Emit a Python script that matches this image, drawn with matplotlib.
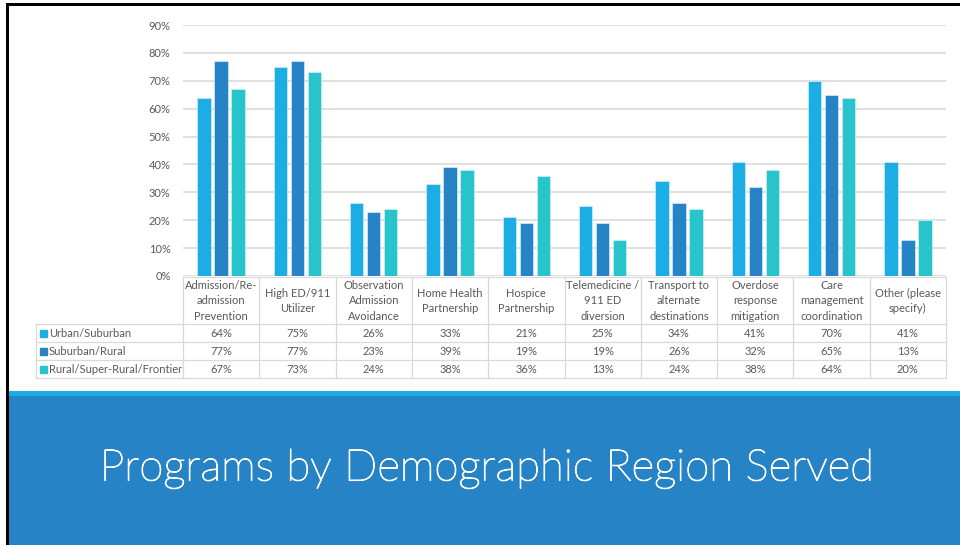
import matplotlib
matplotlib.use("Agg")
import matplotlib.pyplot as plt
from matplotlib.patches import Rectangle
import matplotlib.patheffects as pe

plt.rcParams['font.family'] = ['Lato', 'DejaVu Sans']

categories = [
    "Admission/Re-\nadmission\nPrevention",
    "High ED/911\nUtilizer",
    "Observation\nAdmission\nAvoidance",
    "Home Health\nPartnership",
    "Hospice\nPartnership",
    "Telemedicine /\n911 ED\ndiversion",
    "Transport to\nalternate\ndestinations",
    "Overdose\nresponse\nmitigation",
    "Care\nmanagement\ncoordination",
    "Other (please\nspecify)",
]
series_names = ["Urban/Suburban", "Suburban/Rural", "Rural/Super-Rural/Frontier"]
urban_suburban = [64, 75, 26, 33, 21, 25, 34, 41, 70, 41]
suburban_rural = [77, 77, 23, 39, 19, 19, 26, 32, 65, 13]
rural_frontier = [67, 73, 24, 38, 36, 13, 24, 38, 64, 20]
series_values = [urban_suburban, suburban_rural, rural_frontier]
yticks = [0, 10, 20, 30, 40, 50, 60, 70, 80, 90]
title = "Programs by Demographic Region Served"

colors = ["#1CADE4", "#2683C6", "#27C4CC"]
text_color = "#595959"
grid_color = "#D9D9D9"

W, H = 960, 545
fig = plt.figure(figsize=(W / 100, H / 100), dpi=100)

# overlay in pixel coordinates
ov = fig.add_axes([0, 0, 1, 1], zorder=0)
ov.set_xlim(0, W)
ov.set_ylim(H, 0)
ov.axis("off")

# plot area layout (pixels)
L, R, T, B = 183, 946, 25, 276
ax = fig.add_axes([L / W, (H - B) / H, (R - L) / W, (B - T) / H], zorder=1)
ax.patch.set_alpha(0)
n = len(categories)
ax.set_xlim(0, n)
ax.set_ylim(0, 90)
bw = 0.175
step = 0.223
for k, vals in enumerate(series_values):
    xs = [i + 0.5 + (k - 1) * step for i in range(n)]
    ax.bar(xs, vals, width=bw, color=colors[k], edgecolor="#CFEFFA", linewidth=0.5, zorder=3)
ax.set_yticks(yticks)
ax.set_yticklabels([f"{t}%" for t in yticks], color=text_color, fontsize=8)
ax.tick_params(axis="y", length=0, pad=9)
ax.set_xticks([])
for s in ax.spines.values():
    s.set_visible(False)
ax.grid(axis="y", color=grid_color, linewidth=1.2, zorder=0)
ax.set_axisbelow(True)

# data table
cw = (R - L) / n
row_lines = [277, 324, 342, 360, 378]
lab_left = 36
lw = 0.9
ov.plot([L, R], [row_lines[0], row_lines[0]], color=grid_color, lw=lw)
for y in row_lines[1:]:
    ov.plot([lab_left, R], [y, y], color=grid_color, lw=lw)
ov.plot([lab_left, lab_left], [row_lines[1], row_lines[-1]], color=grid_color, lw=lw)
for i in range(n + 1):
    x = L + i * cw
    ov.plot([x, x], [row_lines[0], row_lines[-1]], color=grid_color, lw=lw)
for i, c in enumerate(categories):
    ov.text(L + (i + 0.5) * cw, (row_lines[0] + row_lines[1]) / 2 + 0.5, c,
            ha="center", va="center", fontsize=8, color=text_color, linespacing=1.45)
for k, vals in enumerate(series_values):
    yc = (row_lines[k + 1] + row_lines[k + 2]) / 2 + 0.5
    ov.add_patch(Rectangle((40, yc - 3.3), 6.6, 6.6, color=colors[k]))
    ov.text(49, yc, series_names[k], ha="left", va="center", fontsize=8, color=text_color)
    for i, v in enumerate(vals):
        ov.text(L + (i + 0.5) * cw, yc, f"{v}%", ha="center", va="center",
                fontsize=8, color=text_color)

# banner
ov.add_patch(Rectangle((7, 391), W - 7, 6, color="#1CADE4", lw=0))
ov.add_patch(Rectangle((7, 396), W - 7, H - 396, color="#2683C6", lw=0))
ov.text(487, 469, title, ha="center", va="center", fontsize=31.5, color="white",
        fontweight="light",
        path_effects=[pe.withStroke(linewidth=0.8, foreground="white")])

# slide border
ov.add_patch(Rectangle((6, 3), W - 6, 2.5, color="black", lw=0))
ov.add_patch(Rectangle((6, 3), 2.5, H - 3, color="black", lw=0))

fig.savefig("out.png", dpi=100)
